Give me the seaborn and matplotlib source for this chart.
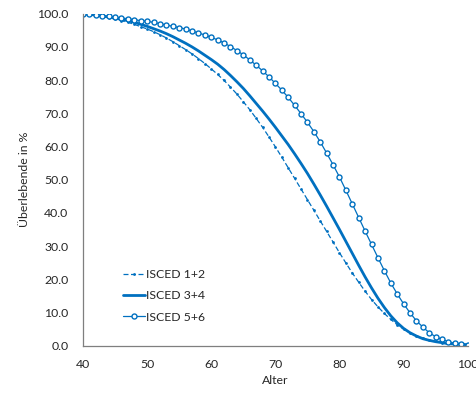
import numpy as np
import pandas as pd
import matplotlib
matplotlib.use("Agg")
import matplotlib.pyplot as plt
from matplotlib.ticker import MultipleLocator, FormatStrFormatter
import seaborn as sns

ages = list(range(40, 101))

isced_12 = [100.0, 99.8, 99.5, 99.2, 98.8, 98.4, 97.9, 97.4, 96.8, 96.1,
            95.4, 94.6, 93.7, 92.7, 91.6, 90.4, 89.2, 87.9, 86.5, 85.0,
            83.4, 81.7, 79.9, 77.9, 75.8, 73.5, 71.1, 68.5, 65.8, 62.9,
            59.9, 56.8, 53.6, 50.4, 47.2, 44.0, 40.8, 37.6, 34.4, 31.2,
            28.0, 24.9, 21.9, 19.1, 16.4, 13.9, 11.7, 9.7, 7.9, 6.3,
            5.0, 3.9, 3.0, 2.3, 1.7, 1.3, 0.9, 0.7, 0.5, 0.3, 0.2]

isced_34 = [100.0, 99.8, 99.6, 99.3, 99.0, 98.7, 98.3, 97.9, 97.4, 96.8,
            96.2, 95.5, 94.8, 94.0, 93.1, 92.1, 91.1, 90.0, 88.8, 87.5,
            86.2, 84.8, 83.2, 81.4, 79.5, 77.5, 75.3, 73.0, 70.7, 68.3,
            65.8, 63.2, 60.6, 57.8, 54.9, 51.9, 48.7, 45.4, 42.0, 38.5,
            35.0, 31.4, 27.8, 24.2, 20.7, 17.4, 14.3, 11.5, 9.0, 6.9,
            5.2, 3.9, 2.9, 2.1, 1.6, 1.2, 0.9, 0.6, 0.5, 0.4, 0.3]

isced_56 = [100.0, 99.8, 99.6, 99.4, 99.2, 99.0, 98.7, 98.5, 98.2, 97.9,
            97.7, 97.4, 97.0, 96.6, 96.2, 95.8, 95.4, 94.8, 94.2, 93.6,
            92.9, 92.1, 91.2, 90.1, 88.9, 87.6, 86.1, 84.5, 82.8, 81.0,
            79.0, 77.0, 74.8, 72.4, 69.9, 67.3, 64.5, 61.4, 58.0, 54.5,
            50.8, 46.8, 42.7, 38.6, 34.5, 30.5, 26.5, 22.6, 18.9, 15.6,
            12.6, 9.9, 7.5, 5.6, 3.9, 2.7, 1.9, 1.2, 0.7, 0.4, 0.3]

labels = ["ISCED 1+2", "ISCED 3+4", "ISCED 5+6"]
x_ticks = [40, 50, 60, 70, 80, 90, 100]

df = pd.DataFrame({
    "Alter": ages * 3,
    "Wert": isced_12 + isced_34 + isced_56,
    "Gruppe": [labels[0]] * len(ages) + [labels[1]] * len(ages) + [labels[2]] * len(ages),
})

sns.set_style("white")
plt.rcParams["font.family"] = ["Lato", "DejaVu Sans"]

blue = "#0070C0"
txt = "#262626"
fs = 8.8
fig = plt.figure(figsize=(4.76, 3.93), dpi=100)
ax = fig.add_axes([0.1744, 0.1204, 0.8082, 0.8447])

styles = {
    labels[0]: dict(linestyle=(0, (4, 2)), linewidth=0.9, marker="o", markersize=2.0,
                    markerfacecolor=blue, markeredgewidth=0),
    labels[1]: dict(linestyle="-", linewidth=2.0),
    labels[2]: dict(linestyle="-", linewidth=0.9, marker="o", markersize=3.6,
                    markerfacecolor="white", markeredgecolor=blue, markeredgewidth=1.0),
}
for lab in labels:
    sub = df[df["Gruppe"] == lab]
    sns.lineplot(data=sub, x="Alter", y="Wert", ax=ax, color=blue, label=lab,
                 **styles[lab])

ax.set_xlim(40, 100)
ax.set_ylim(0, 100)
ax.set_xticks(x_ticks)
ax.xaxis.set_minor_locator(MultipleLocator(5))
ax.yaxis.set_major_locator(MultipleLocator(10))
ax.yaxis.set_minor_locator(MultipleLocator(5))
ax.yaxis.set_major_formatter(FormatStrFormatter("%.1f"))

for s in ["top", "right"]:
    ax.spines[s].set_visible(False)
for s in ["left", "bottom"]:
    ax.spines[s].set_color("#7f7f7f")
    ax.spines[s].set_linewidth(0.9)

ax.tick_params(axis="both", which="both", direction="out", length=3.5, width=0.9,
               color="#7f7f7f", labelsize=fs, labelcolor=txt)
ax.tick_params(axis="x", which="major", pad=6)
ax.tick_params(axis="y", which="major", pad=7)

ax.set_xlabel("Alter", fontsize=fs, color=txt, labelpad=4)
ax.set_ylabel("Überlebende in %", fontsize=fs, color=txt, labelpad=5)

leg = ax.legend(loc="center left", bbox_to_anchor=(0.09, 0.15), frameon=False,
                fontsize=fs, handlelength=1.8, handletextpad=0.1, labelspacing=0.85,
                borderaxespad=0)
for t in leg.get_texts():
    t.set_color(txt)

fig.savefig("out.png", dpi=100)
